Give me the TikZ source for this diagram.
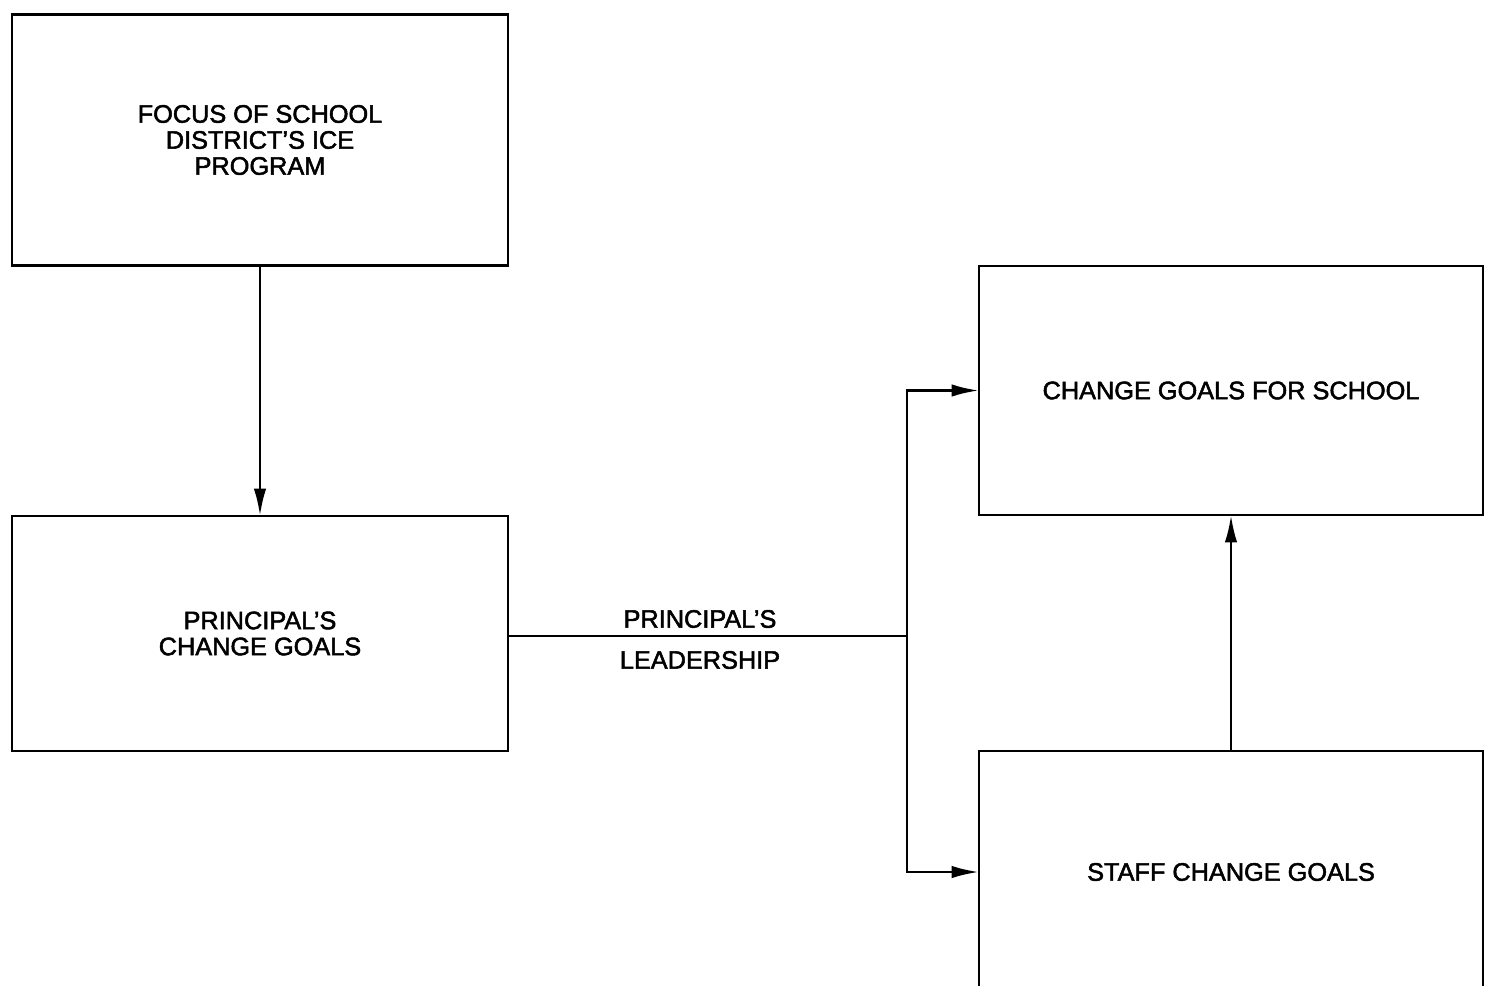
\documentclass[tikz,border=0pt]{standalone}
\usepackage{fontspec}
\setmainfont{Liberation Sans}
\newfontfamily\medfont{Liberation Sans}[Ligatures=TeX,FakeBold=2]
\usetikzlibrary{arrows.meta}
\begin{document}
\begin{tikzpicture}[x=0.02cm,y=-0.02cm,
  line width=1.6pt,
  box/.style={draw=black,rectangle,inner sep=0pt,outer sep=0pt,align=center,
    font=\medfont\fontsize{14.4}{14.8}\selectfont},
  lbl/.style={inner sep=0pt,font=\medfont\fontsize{14.4}{14.8}\selectfont},
  arr/.style={-{Latex[length=0.55cm,width=0.25cm]}}]
\useasboundingbox (0,0) rectangle (1486,986);
\clip (0,0) rectangle (1486,986);
\fill[white] (0,0) rectangle (1486,986);
\node[box,minimum width=9.92cm,minimum height=5.02cm] (A) at (260,140)
  {FOCUS OF SCHOOL\\DISTRICT'S ICE\\PROGRAM};
\node[box,minimum width=9.92cm,minimum height=4.7cm] (B) at (260,633.5)
  {PRINCIPAL'S\\CHANGE GOALS};
\node[box,minimum width=10.08cm,minimum height=4.98cm] (C) at (1231,390.5)
  {CHANGE GOALS FOR SCHOOL};
\node[box,minimum width=10.08cm,minimum height=4.84cm] (D) at (1231,872)
  {STAFF CHANGE GOALS};
\node[lbl] (L1) at (700,619) {PRINCIPAL'S};
\node[lbl] (L2) at (700,660) {LEADERSHIP};
\coordinate (J) at (907,636);
\draw[arr] (A.south) -- (B.north);
\draw (B.east |- J) -- (J);
\draw[arr] (J) |- (C.west);
\draw[arr] (J) |- (D.west);
\draw[arr] (D.north) -- (C.south);
\end{tikzpicture}
\end{document}
